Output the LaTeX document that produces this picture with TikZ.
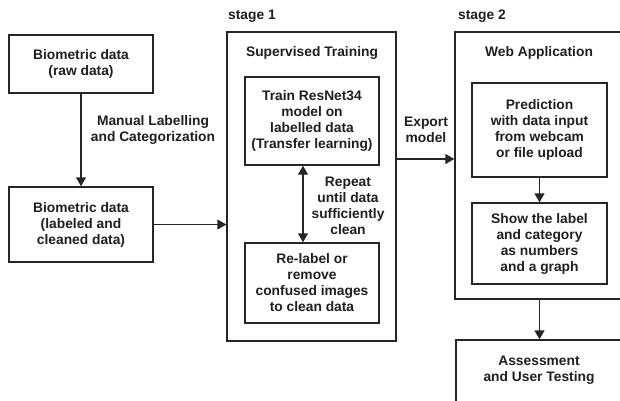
\documentclass[tikz,border=0pt]{standalone}
\usepackage{fontspec}
\setmainfont{Liberation Sans}
\usetikzlibrary{arrows.meta}
\begin{document}
\begin{tikzpicture}[x=1pt,y=-1pt,
  every node/.style={font=\bfseries\fontsize{13.8}{16}\selectfont, text=black!88, inner sep=0pt},
  box/.style={draw=black!85, line width=1.4pt, align=center},
  lbl/.style={align=center},
  arr/.style={draw=black!85, line width=1.4pt, -{Triangle[width=10pt,length=9pt]}},
  darr/.style={draw=black!85, line width=1.4pt, {Triangle[width=10pt,length=9pt]}-{Triangle[width=10pt,length=9pt]}}]
\useasboundingbox (0,0) rectangle (620,400);
\clip (0,0) rectangle (620,400);
\fill[white] (0,0) rectangle (620,400);
% left column
\node[box, minimum width=144pt, minimum height=58pt] (raw) at (81,64) {Biometric data\\(raw data)};
\node[box, minimum width=144pt, minimum height=75pt] (clean) at (81,224.5) {Biometric data\\(labeled and\\cleaned data)};
\node[lbl] (manual) at (153,130) {Manual Labelling\\and Categorization};
% stage 1
\node[anchor=west] (s1) at (228,16) {stage 1};
\node[box, minimum width=169pt, minimum height=309pt] (st1) at (311.5,186.5) {};
\node (sup) at (312,53) {Supervised Training};
\node[box, minimum width=134pt, minimum height=88pt] (train) at (312,121) {Train ResNet34\\model on\\labelled data\\(Transfer learning)};
\node[box, minimum width=134pt, minimum height=80pt] (relabel) at (312,283) {Re-label or\\remove\\confused images\\to clean data};
\node[lbl] (repeat) at (348,205.5) {Repeat\\until data\\sufficiently\\clean};
\node[lbl] (export) at (426,129.5) {Export\\model};
% stage 2
\node[anchor=west] (s2) at (458,16) {stage 2};
\node[box, minimum width=185pt, minimum height=267pt] (st2) at (547.5,165.5) {};
\node (web) at (539,53) {Web Application};
\node[box, minimum width=135pt, minimum height=94pt] (pred) at (539.5,130) {Prediction\\with data input\\from webcam\\or file upload};
\node[box, minimum width=135pt, minimum height=81pt] (show) at (539.5,243.5) {Show the label\\and category\\as numbers\\and a graph};
\node[box, minimum width=184pt, minimum height=70pt] (assess) at (548,375) {};
\node[lbl] (assesst) at (539,370.5) {Assessment\\and User Testing};
% connectors
\coordinate (ex) at (0,159);
\coordinate (dx) at (303,0);
\draw[arr] (raw.south) -- (clean.north);
\draw[arr] (clean.east) -- (clean.east -| st1.west);
\draw[arr] (st1.east |- ex) -- (st2.west |- ex);
\draw[darr] (train.south -| dx) -- (relabel.north -| dx);
\draw[arr] (pred.south) -- (show.north);
\draw[arr] (st2.south -| pred.south) -- (assess.north -| pred.south);
\end{tikzpicture}
\end{document}
